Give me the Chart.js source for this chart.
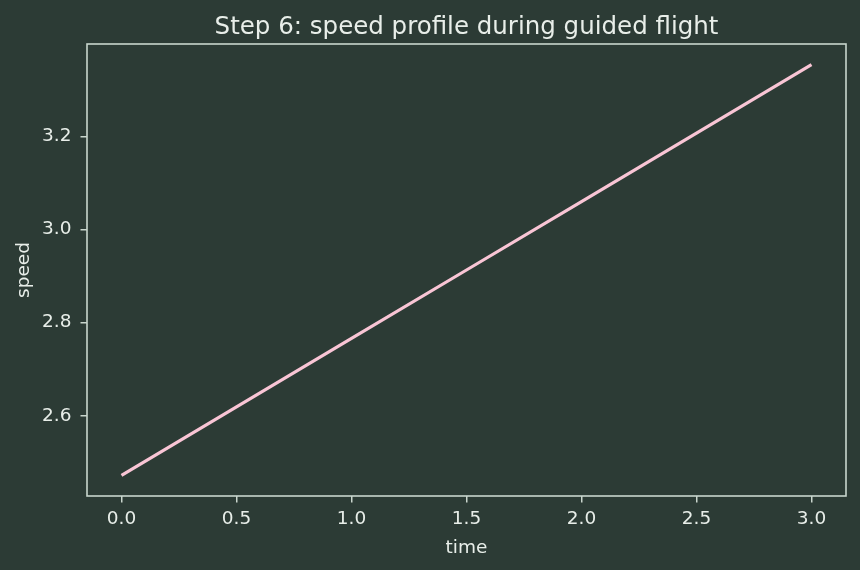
<!DOCTYPE html>
<html lang="en">

<head>
  <meta charset="UTF-8">
  <title>Speed profile</title>
  <script src="https://cdn.jsdelivr.net/npm/chart.js"></script>
  <style>
    html, body { margin: 0; padding: 0; background: #2c3b35; }
    canvas { display: block; }
  </style>
</head>

<body>
  <canvas id="speedChart" width="860" height="570"></canvas>

  <script>
    // values
    const times = [0, 0.5, 1.0, 1.5, 2.0, 2.5, 3.0];
    const speeds = [2.472, 2.619, 2.766, 2.913, 3.060, 3.207, 3.354];
    const xTicks = [0, 0.5, 1.0, 1.5, 2.0, 2.5, 3.0];
    const yTicks = [2.6, 2.8, 3.0, 3.2];

    const bg = '#2c3b35';
    const frame = '#c9d6cd';
    const text = '#e8eee9';
    const font = 'DejaVu Sans';

    // full box around the plot, like matplotlib spines,
    // and title centred over the plot area instead of the canvas
    const boxPlugin = {
      id: 'box',
      afterLayout(chart) {
        const t = chart.titleBlock;
        if (t) {
          t.left = chart.chartArea.left;
          t.right = chart.chartArea.right;
        }
      },
      beforeDraw(chart) {
        const c = chart.ctx;
        c.save();
        c.fillStyle = bg;
        c.fillRect(0, 0, chart.width, chart.height);
        c.restore();
      },
      afterDatasetsDraw(chart) {
        const a = chart.chartArea;
        const c = chart.ctx;
        c.save();
        c.strokeStyle = frame;
        c.lineWidth = 1.6;
        c.strokeRect(a.left, a.top, a.right - a.left, a.bottom - a.top);
        c.restore();
      }
    };

    const ctx = document.getElementById('speedChart').getContext('2d');
    new Chart(ctx, {
      type: 'line',
      data: {
        datasets: [{
          data: times.map((t, i) => ({ x: t, y: speeds[i] })),
          borderColor: '#f9c5d5',
          borderWidth: 3.2,
          pointRadius: 0,
          tension: 0,
          fill: false
        }]
      },
      options: {
        responsive: false,
        animation: false,
        devicePixelRatio: 1,
        layout: { padding: { left: 0, right: 14, top: 0, bottom: 0 } },
        plugins: {
          legend: { display: false },
          tooltip: { enabled: false },
          title: {
            display: true,
            text: 'Step 6: speed profile during guided flight',
            color: text,
            font: { family: font, size: 24.5, weight: 'normal', lineHeight: 1.2 },
            padding: { top: 12.5, bottom: 2.1 }
          }
        },
        scales: {
          x: {
            type: 'linear',
            min: -0.15,
            max: 3.15,
            afterBuildTicks: s => { s.ticks = xTicks.map(v => ({ value: v })); },
            afterFit: s => { s.height = 74; },
            grid: { drawOnChartArea: false, drawTicks: true, tickLength: 6.5, color: frame, lineWidth: 1.5 },
            border: { display: false },
            ticks: {
              color: text,
              padding: 6,
              maxRotation: 0,
              font: { family: font, size: 18.5 },
              callback: v => v.toFixed(1)
            },
            title: {
              display: true,
              text: 'time',
              color: text,
              font: { family: font, size: 18.5 },
              padding: { top: 0, bottom: 11 }
            }
          },
          y: {
            min: 2.428,
            max: 3.398,
            afterBuildTicks: s => { s.ticks = yTicks.map(v => ({ value: v })); },
            afterFit: s => { s.width = 87; },
            grid: { drawOnChartArea: false, drawTicks: true, tickLength: 6.5, color: frame, lineWidth: 1.5 },
            border: { display: false },
            ticks: {
              color: text,
              padding: 9,
              font: { family: font, size: 18.5 },
              callback: v => v.toFixed(1)
            },
            title: {
              display: true,
              text: 'speed',
              color: text,
              font: { family: font, size: 18.5 },
              padding: { top: 13, bottom: 0 }
            }
          }
        }
      },
      plugins: [boxPlugin]
    });
  </script>
</body>

</html>
